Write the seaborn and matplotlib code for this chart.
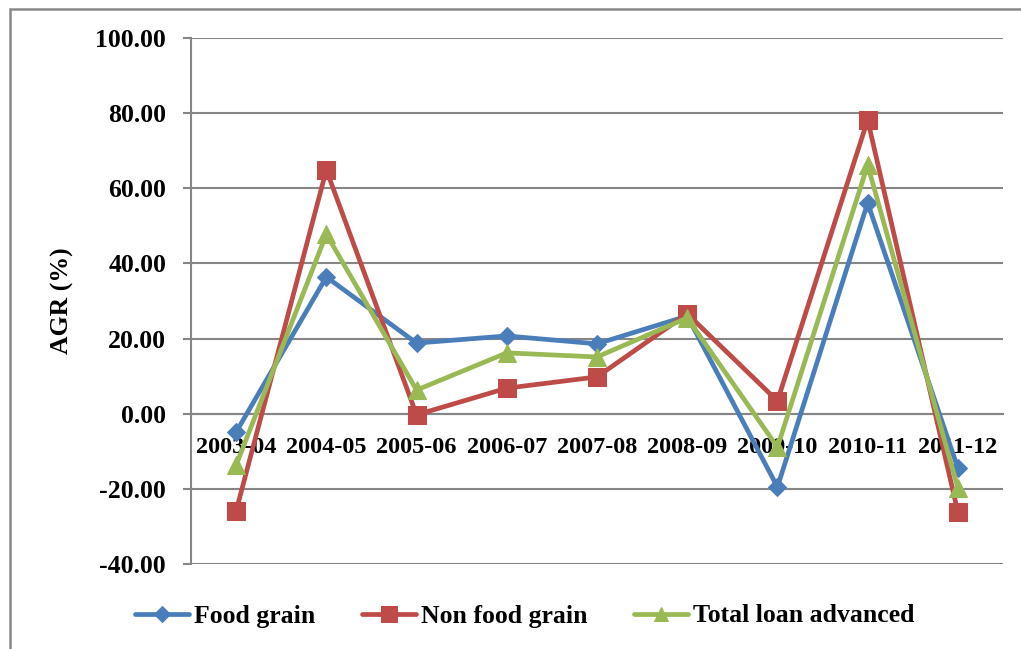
import numpy as np
import pandas as pd
import matplotlib
matplotlib.use("Agg")
import matplotlib.pyplot as plt
from matplotlib.patches import Rectangle
import seaborn as sns

years = ["2003-04", "2004-05", "2005-06", "2006-07", "2007-08",
         "2008-09", "2009-10", "2010-11", "2011-12"]
food_grain = [-4.9, 36.4, 18.8, 20.7, 18.6, 26.0, -19.5, 56.1, -14.5]
non_food_grain = [-25.9, 64.9, -0.3, 6.8, 9.8, 26.6, 3.4, 78.2, -26.2]
total_loan = [-13.7, 47.8, 6.3, 16.2, 15.1, 25.5, -8.9, 66.2, -19.8]
series_names = ["Food grain", "Non food grain", "Total loan advanced"]
y_ticks = [-40, -20, 0, 20, 40, 60, 80, 100]

sns.set_theme(style="white")
plt.rcParams["font.family"] = ["Liberation Serif", "DejaVu Serif"]
plt.rcParams["font.weight"] = "bold"
plt.rcParams["text.color"] = "black"
plt.rcParams["axes.labelcolor"] = "black"
plt.rcParams["xtick.labelcolor"] = "black"
plt.rcParams["ytick.labelcolor"] = "black"

fig = plt.figure(figsize=(10.21, 6.49), dpi=100)
ax = fig.add_axes([191 / 1021, 1 - 564 / 649, (1003 - 191) / 1021, (564 - 38) / 649])

colors = ["#4A7EBB", "#BE4B48", "#98B954"]
markers = ["D", "s", "^"]
msizes = [9.5, 13, 12.5]
datas = [food_grain, non_food_grain, total_loan]
x = np.arange(len(years))
for name, vals, c, m, ms in zip(series_names, datas, colors, markers, msizes):
    df = pd.DataFrame({"x": x, "y": vals})
    sns.lineplot(data=df, x="x", y="y", ax=ax, color=c, marker=m, markersize=ms,
                 markeredgecolor=c, markerfacecolor=c, linewidth=3.4,
                 label=name, sort=False, zorder=3)

ax.set_xlim(-0.5, len(years) - 0.5)
ax.set_ylim(-40, 100)
ax.set_yticks(y_ticks)
ax.set_yticklabels([f"{v:.2f}" for v in y_ticks], fontsize=18.5, fontweight="bold", color="black")
ax.yaxis.grid(True, color="#868686", linewidth=1.5)
ax.set_axisbelow(True)

for s in ["top", "right"]:
    ax.spines[s].set_visible(False)
ax.spines["left"].set_color("#868686")
ax.spines["left"].set_linewidth(1.5)
ax.spines["bottom"].set_position(("data", 0))
ax.spines["bottom"].set_color("#868686")
ax.spines["bottom"].set_linewidth(1.5)

ax.set_xticks(x)
ax.set_xticklabels(years, fontsize=17.5, fontweight="bold", color="black")
ax.set_xticks(np.arange(-0.5, len(years)), minor=True)
ax.tick_params(axis="x", which="major", length=0, pad=17)
ax.tick_params(axis="x", which="minor", length=5, width=1.5, color="#868686", direction="out")
ax.tick_params(axis="y", which="major", length=6, width=1.5, color="#868686",
               direction="out", pad=12, left=True)

ax.set_xlabel("")
ax.set_ylabel("AGR (%)", fontsize=18.5, fontweight="bold", color="black")
ax.yaxis.set_label_coords(-0.1445, 0.5)

leg = ax.legend(loc="center", bbox_to_anchor=(0.514, 1 - 616 / 649), bbox_transform=fig.transFigure,
                ncol=3, frameon=False, handlelength=2.1, handletextpad=0.2,
                columnspacing=1.8, prop={"weight": "bold", "size": 18.5})
for t in leg.get_texts():
    t.set_color("black")
for h in leg.legend_handles:
    h.set_markersize(h.get_markersize() * 0.85)

fig.patches.append(Rectangle((10 / 1021, -0.1), 1.2, 1 - 9 / 649 + 0.1,
                             transform=fig.transFigure, fill=False,
                             edgecolor="#888888", linewidth=1.8))

fig.savefig("out.png", dpi=100)
